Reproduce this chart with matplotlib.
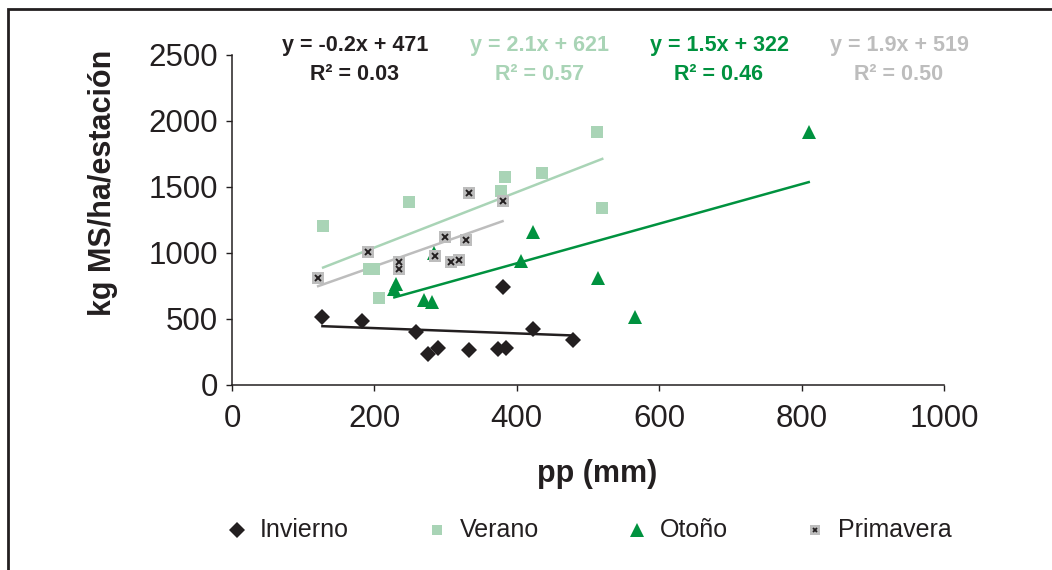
import numpy as np
import matplotlib
matplotlib.use('Agg')
import matplotlib.pyplot as plt
from matplotlib.patches import Rectangle
from matplotlib.lines import Line2D

plt.rcParams['font.family'] = ['Liberation Sans', 'DejaVu Sans']

# precipitacion (mm) y produccion (kg MS/ha/estacion) por estacion
inv_pp = [127, 182, 258, 275, 290, 333, 373, 385, 380, 423, 479]
inv_kg = [517, 487, 402, 237, 283, 267, 270, 280, 742, 427, 341]

ver_pp = [128, 193, 199, 207, 248, 378, 384, 436, 512, 520]
ver_kg = [1204, 879, 879, 661, 1386, 1472, 1578, 1608, 1917, 1341]

oto_pp = [231, 228, 269, 281, 284, 406, 423, 514, 566, 810]
oto_kg = [765, 727, 644, 631, 998, 942, 1161, 808, 513, 1919]

pri_pp = [121, 191, 235, 235, 299, 285, 307, 319, 328, 333, 380]
pri_kg = [813, 1005, 932, 876, 1124, 977, 932, 945, 1096, 1452, 1394]

# lineas de tendencia
slopes = [-0.2, 2.1, 1.5, 1.9]
intercepts = [471, 621, 322, 519]
r2 = [0.03, 0.57, 0.46, 0.50]

names = ['Invierno', 'Verano', 'Otoño', 'Primavera']
colors = ['#231f20', '#a9d4b6', '#00923f', '#bdbdbd']

W, H = 1052, 570
fig = plt.figure(figsize=(W / 100, H / 100), dpi=100)

def px(x0, y0, x1, y1):
    return [x0 / W, 1 - y1 / H, (x1 - x0) / W, (y1 - y0) / H]

ax = fig.add_axes(px(232, 55, 944, 385))

ax.plot(inv_pp, inv_kg, 'D', color=colors[0], ms=8.5, mew=0, ls='none', zorder=3)
ax.plot(ver_pp, ver_kg, 's', color=colors[1], ms=8, mew=0, ls='none', zorder=3)
ax.plot(oto_pp, oto_kg, '^', color=colors[2], ms=10, mew=0, ls='none', zorder=3)
ax.plot(pri_pp, pri_kg, 's', color=colors[3], ms=8, mew=0, ls='none', zorder=4)
ax.plot(pri_pp, pri_kg, 'x', color='#231f20', ms=4, mew=1.4, ls='none', zorder=5)

series_pp = [inv_pp, ver_pp, oto_pp, pri_pp]
for xs, m, b, c in zip(series_pp, slopes, intercepts, colors):
    xl = np.array([min(xs), max(xs)])
    ax.plot(xl, m * xl + b, color=c, lw=1.8, zorder=2)

ax.set_xlim(0, 1000)
ax.set_ylim(0, 2500)
ax.set_xticks(range(0, 1001, 200))
ax.set_yticks(range(0, 2501, 500))
for s in ['top', 'right']:
    ax.spines[s].set_visible(False)
for s in ['left', 'bottom']:
    ax.spines[s].set_color('#231f20')
    ax.spines[s].set_linewidth(1.1)
ax.tick_params(axis='both', direction='out', length=4, width=1, color='#231f20',
               labelsize=22.5, labelcolor='#231f20')
ax.tick_params(axis='y', pad=6)
ax.tick_params(axis='x', pad=10)

ax.set_xlabel('pp (mm)', fontsize=22, fontweight='bold', color='#231f20')
ax.xaxis.label.set_va('center')
ax.xaxis.set_label_coords((597 - 232) / 712, (385 - 474) / 330)
ax.set_ylabel('kg MS/ha/estación', fontsize=22, fontweight='bold', color='#231f20')
ax.yaxis.label.set_va('center')
ax.yaxis.set_label_coords((103 - 232) / 712, (385 - 183) / 330)

# ecuaciones de las tendencias
eq_x = [355, 540, 719, 899]
for x, m, b, r, c in zip(eq_x, slopes, intercepts, r2, colors):
    fig.text(x / W, 1 - 46 / H, f'y = {m:.1f}x + {b}', ha='center', va='center',
             fontsize=15.5, fontweight='bold', color=c)
    fig.text(x / W, 1 - 75 / H, f'R² = {r:.2f}', ha='center', va='center',
             fontsize=15.5, fontweight='bold', color=c)

# leyenda
leg_y = 1 - 530 / H
leg_x = [237, 437, 637, 815]
leg_styles = [dict(marker='D', ms=8, color=colors[0]),
              dict(marker='s', ms=7.5, color=colors[1]),
              dict(marker='^', ms=10, color=colors[2]),
              dict(marker='s', ms=7.5, color=colors[3])]
for x, name, st in zip(leg_x, names, leg_styles):
    fig.add_artist(Line2D([x / W], [leg_y], ls='none', mew=0, **st))
    fig.text((x + 23) / W, leg_y, name, ha='left', va='center',
             fontsize=18, color='#231f20')
fig.add_artist(Line2D([leg_x[3] / W], [leg_y], ls='none', marker='x', ms=3.5,
                      mew=1.3, color='#231f20'))

# marco exterior
fig.patches.append(Rectangle((8 / W, -0.2), 1.2, 1.2 - 9 / H, transform=fig.transFigure,
                             fill=False, edgecolor='#231f20', lw=2, zorder=10))

fig.savefig('out.png', dpi=100)
